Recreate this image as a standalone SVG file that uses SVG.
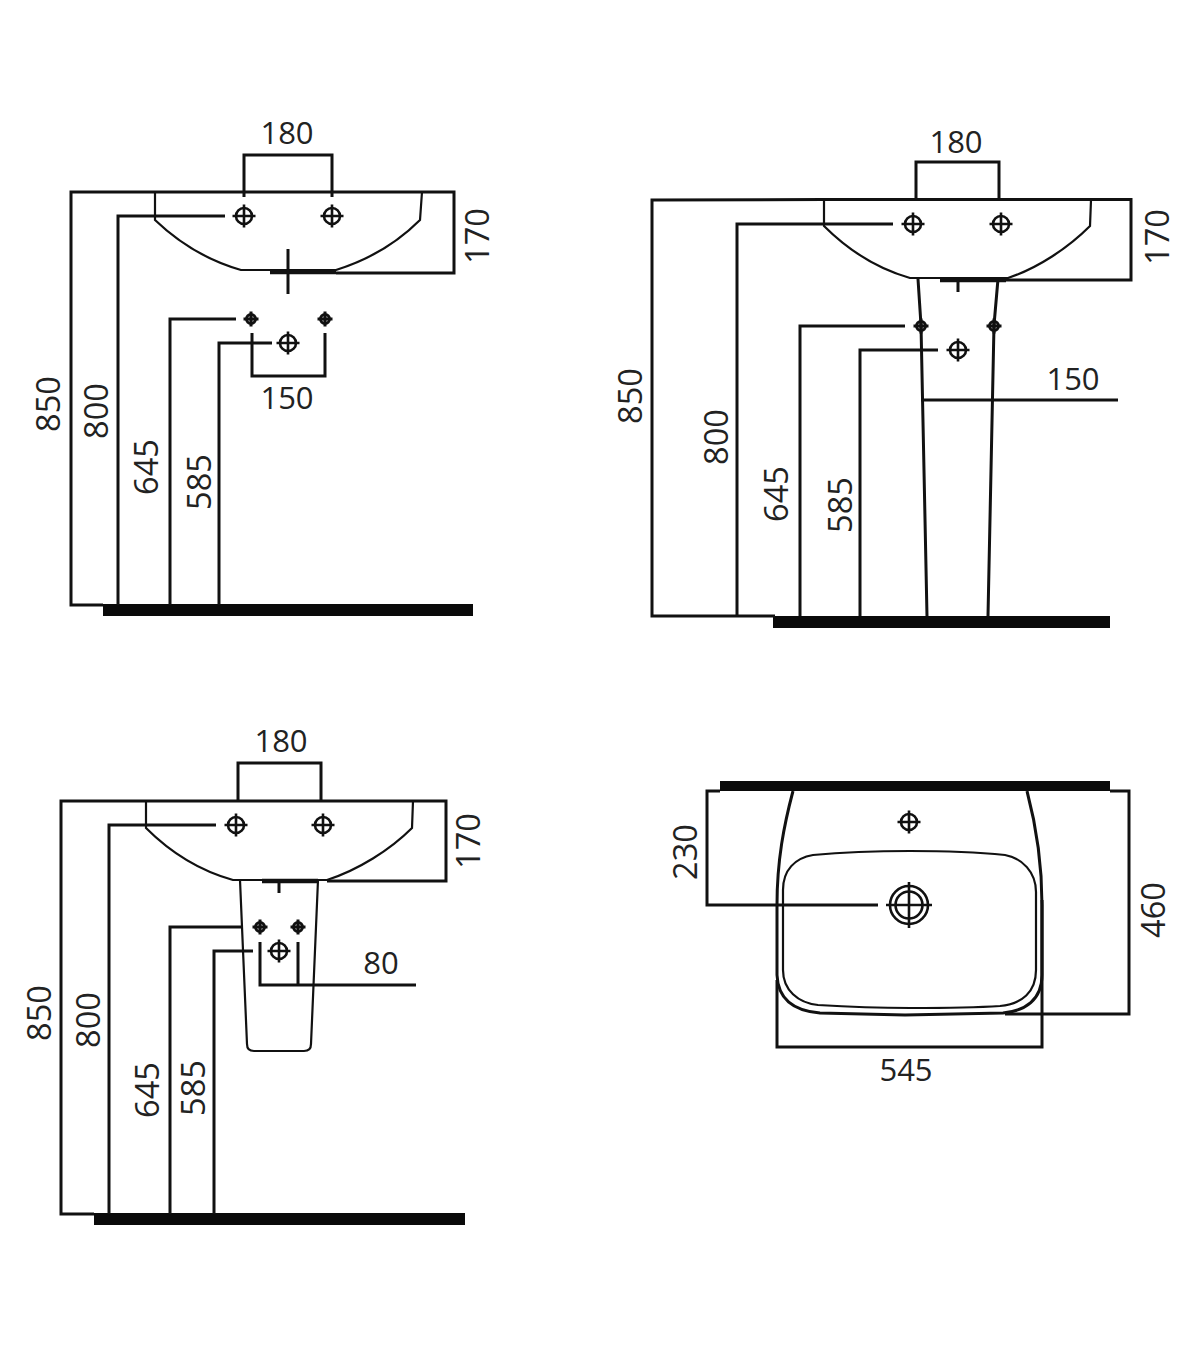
<svg xmlns="http://www.w3.org/2000/svg" width="1200" height="1356" viewBox="0 0 1200 1356">
<style>
.l{fill:none;stroke:#111;stroke-width:3;stroke-linejoin:miter}
.o{fill:none;stroke:#111;stroke-width:2.200}
.t{stroke-width:4.500}
.g{fill:#0a0a0a}
.d{font-family:"Open Sans","Liberation Sans",sans-serif;font-size:31px;fill:#222;text-anchor:middle}
.r{font-size:32.500px}
.x{fill:none;stroke:#111;stroke-width:2.600}
.s{fill:none;stroke:#111;stroke-width:3}
</style>
<defs>
<g id="cross"><circle r="8" class="x"/><path d="M-11.500 0H11.500M0-11.500V11.500" class="x"/></g>
<g id="small"><circle r="4.500" class="s"/><path d="M-7.500 0H7.500M0-7.500V7.500" class="s"/></g>
</defs>
<rect width="1200" height="1356" fill="#fff"/>

<g id="wall-hung-front">
<rect class="g" x="103" y="604" width="370" height="12"/>
<path class="o" d="M155 192V220C178 242 206 260 241 270H336C368 260 398 242 420 220L422 192"/>
<path class="l t" d="M270 272H336"/>
<path class="l" d="M288 249V294"/>
<use href="#cross" x="244" y="216"/><use href="#cross" x="332" y="216"/>
<use href="#small" x="251" y="319"/><use href="#small" x="325" y="319"/>
<use href="#cross" x="288" y="343"/>
<text class="d" x="287" y="144">180</text>
<text class="d" x="287" y="409">150</text>
<text class="d r" transform="translate(60 404) rotate(-90)">850</text>
<text class="d r" transform="translate(108 411) rotate(-90)">800</text>
<text class="d r" transform="translate(158 467) rotate(-90)">645</text>
<text class="d r" transform="translate(211 482) rotate(-90)">585</text>
<text class="d r" transform="translate(489 236) rotate(-90)">170</text>
</g>

<g id="pedestal-front">
<rect class="g" x="773" y="616" width="337" height="12"/>
<path class="o" d="M824 200V226C846 248 875 268 910 278H1008C1038 268 1068 248 1090 226L1091 200"/>
<path class="l" d="M918 279L921 325L927 616M998 279L994 325L988 616"/>
<path class="l t" d="M940 280H1006"/>
<path class="l" d="M958 280V292"/>
<use href="#cross" x="913" y="224"/><use href="#cross" x="1001" y="224"/>
<use href="#small" x="921" y="326"/><use href="#small" x="994" y="326"/>
<use href="#cross" x="958" y="350"/>
<text class="d" x="956" y="153">180</text>
<text class="d" x="1073" y="390">150</text>
<text class="d r" transform="translate(642 396) rotate(-90)">850</text>
<text class="d r" transform="translate(728 437) rotate(-90)">800</text>
<text class="d r" transform="translate(788 494) rotate(-90)">645</text>
<text class="d r" transform="translate(852 505) rotate(-90)">585</text>
<text class="d r" transform="translate(1169 237) rotate(-90)">170</text>
</g>

<g id="semi-pedestal-front">
<rect class="g" x="94" y="1213" width="371" height="12"/>
<path class="o" d="M146 801V828C168 850 197 870 233 880H327C358 870 390 850 412 828L413 801"/>
<path class="o" d="M240 880L247 1044Q247 1051 254 1051H304Q311 1051 311 1044L318 880"/>
<path class="l t" d="M262 881H318"/>
<path class="l" d="M279 881V893"/>
<use href="#cross" x="236" y="825"/><use href="#cross" x="323" y="825"/>
<use href="#small" x="260" y="927"/><use href="#small" x="298" y="927"/>
<use href="#cross" x="279" y="951"/>
<text class="d" x="281" y="752">180</text>
<text class="d" x="381" y="974">80</text>
<text class="d r" transform="translate(51 1013) rotate(-90)">850</text>
<text class="d r" transform="translate(100 1020) rotate(-90)">800</text>
<text class="d r" transform="translate(159 1090) rotate(-90)">645</text>
<text class="d r" transform="translate(205 1088) rotate(-90)">585</text>
<text class="d r" transform="translate(480 841) rotate(-90)">170</text>
</g>

<g id="top-view">
<rect class="g" x="720" y="781" width="390" height="10"/>
<path class="l" d="M793 791C784 825 777 860 777 905V975C778 1000 795 1011 820 1013L905 1015L1003 1013C1025 1011 1042 1000 1042 975V905C1042 860 1036 825 1027 791"/>
<path class="o" d="M813 855C845 852 880 851 910 851C945 851 975 852 1005 855C1022 858 1036 872 1036 892V970C1036 992 1022 1004 1000 1006C970 1008 940 1008 910 1008C880 1008 850 1007 818 1005C798 1003 783 990 783 970V890C783 870 795 858 813 855Z"/>
<use href="#cross" x="909" y="822"/>
<g transform="translate(909 905)"><circle r="19" class="x"/><circle r="13.500" class="x"/><path d="M-23 0H23M0-23V23" class="x"/></g>
<text class="d" x="906" y="1081">545</text>
<text class="d r" transform="translate(697 852) rotate(-90)">230</text>
<text class="d r" transform="translate(1165 910) rotate(-90)">460</text>
</g>

<g id="connectors">
<path class="l" d="M244 197V155H332V197"/>
<path class="l" d="M103 605H71V192H454V273H336"/>
<path class="l" d="M118 605V216H225"/>
<path class="l" d="M170 605V319H236"/>
<path class="l" d="M219 605V343H272"/>
<path class="l" d="M252 333V376H325V333"/>

<path class="l" d="M916 199V162H999V199"/>
<path class="l" d="M775 616H652V200L824 199.500H1131V280H1006"/>
<path class="l" d="M737 616V224H893"/>
<path class="l" d="M800 616V326H905"/>
<path class="l" d="M860 616V350H938"/>
<path class="l" d="M921 400H1118"/>

<path class="l" d="M238 800V763H321V800"/>
<path class="l" d="M94 1214H61V801H446V881H327"/>
<path class="l" d="M109 1214V825H216"/>
<path class="l" d="M170 1214V927H243"/>
<path class="l" d="M214 1214V951H253"/>
<path class="l" d="M260 942V985H416M298 942V985"/>

<path class="l" d="M720 791H707V905H878"/>
<path class="l" d="M1110 791H1129V1014H1005"/>
<path class="l" d="M777 980V1047H1042V900"/>
</g>
</svg>
